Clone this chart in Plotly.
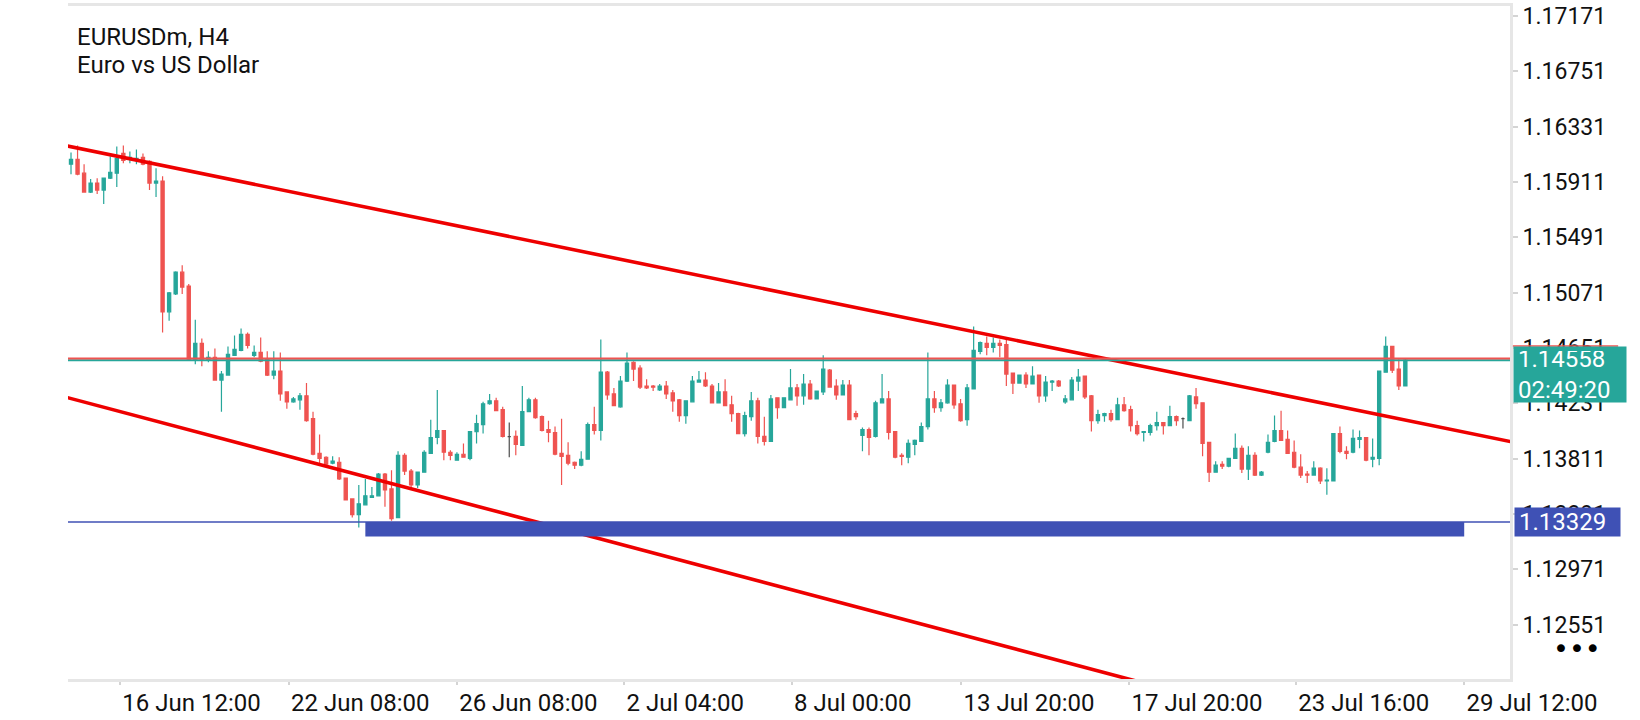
import plotly.graph_objects as go

# EURUSDm H4 candles (index = candle slot)
openP = [
    1.16045, 1.16082, 1.15977, 1.15834, 1.15902, 1.15849, 1.15939, 1.15977, 1.16127, 1.16082,
    1.16075, 1.16097, 1.16067, 1.15902, 1.15917, 1.14925, 1.15061, 1.15226, 1.15121, 1.14565,
    1.14685, 1.14557, 1.14580, 1.14407, 1.14445, 1.14595, 1.14632, 1.14753, 1.14595, 1.14617,
    1.14565, 1.14445, 1.14475, 1.14317, 1.14242, 1.14257, 1.14287, 1.14114, 1.13851, 1.13821,
    1.13776, 1.13783, 1.13663, 1.13505, 1.13385, 1.13460, 1.13517, 1.13528, 1.13693, 1.13581,
    1.13363, 1.13836, 1.13716, 1.13611, 1.13708, 1.13851, 1.13971, 1.14024, 1.13859, 1.13799,
    1.13844, 1.13813, 1.14016, 1.14069, 1.14227, 1.14249, 1.14182, 1.13977, 1.13979, 1.13911,
    1.14167, 1.14257, 1.14129, 1.14031, 1.14009, 1.13851, 1.13836, 1.13783, 1.13761, 1.13806,
    1.14069, 1.14024, 1.14467, 1.14302, 1.14204, 1.14399, 1.14542, 1.14497, 1.14362, 1.14362,
    1.14332, 1.14362, 1.14309, 1.14257, 1.14137, 1.14242, 1.14392, 1.14407, 1.14362, 1.14234,
    1.14317, 1.14219, 1.14152, 1.14001, 1.14129, 1.14249, 1.13979, 1.13941, 1.14272, 1.14197,
    1.14257, 1.14347, 1.14287, 1.14377, 1.14264, 1.14317, 1.14482, 1.14362, 1.14294, 1.14369,
    1.14152, 1.13986, 1.14031, 1.13979, 1.14234, 1.14264, 1.14016, 1.13836, 1.13821, 1.13919,
    1.13941, 1.14054, 1.14264, 1.14197, 1.14234, 1.14369, 1.14227, 1.14106, 1.14339, 1.14625,
    1.14685, 1.14655, 1.14685, 1.14677, 1.14460, 1.14384, 1.14445, 1.14377, 1.14445, 1.14287,
    1.14392, 1.14399, 1.14242, 1.14257, 1.14399, 1.14437, 1.14287, 1.14099, 1.14137, 1.14152,
    1.14106, 1.14219, 1.14182, 1.14061, 1.14009, 1.14009, 1.14061, 1.14084, 1.14061, 1.14129,
    1.14114, 1.14099, 1.14279, 1.14234, 1.13934, 1.13708, 1.13768, 1.13753, 1.13813, 1.13889,
    1.13731, 1.13836, 1.13686, 1.13859, 1.13941, 1.14024, 1.13956, 1.13859, 1.13746, 1.13693,
    1.13686, 1.13738, 1.13641, 1.13641, 1.14001, 1.13866, 1.13859, 1.13956, 1.13971, 1.13806,
    1.13813, 1.14467, 1.14662, 1.14490, 1.14362,
]
highP = [
    1.16135, 1.16187, 1.16045, 1.15932, 1.15939, 1.15942, 1.16105, 1.16180, 1.16187, 1.16142,
    1.16157, 1.16127, 1.16075, 1.16015, 1.15954, 1.15076, 1.15233, 1.15278, 1.15136, 1.14865,
    1.14722, 1.14625, 1.14647, 1.14475, 1.14662, 1.14745, 1.14798, 1.14768, 1.14670, 1.14730,
    1.14625, 1.14625, 1.14617, 1.14320, 1.14279, 1.14309, 1.14384, 1.14167, 1.13994, 1.13828,
    1.13828, 1.13821, 1.13666, 1.13508, 1.13611, 1.13656, 1.13596, 1.13701, 1.13701, 1.13723,
    1.13866, 1.13851, 1.13731, 1.13711, 1.13874, 1.14106, 1.14332, 1.14027, 1.13874, 1.13859,
    1.13926, 1.14020, 1.14144, 1.14242, 1.14302, 1.14272, 1.14204, 1.14084, 1.14024, 1.14362,
    1.14272, 1.14272, 1.14137, 1.14099, 1.14054, 1.14114, 1.13934, 1.13788, 1.13866, 1.14084,
    1.14204, 1.14715, 1.14475, 1.14347, 1.14437, 1.14617, 1.14550, 1.14520, 1.14414, 1.14369,
    1.14377, 1.14399, 1.14332, 1.14264, 1.14252, 1.14437, 1.14475, 1.14467, 1.14377, 1.14384,
    1.14414, 1.14287, 1.14159, 1.14167, 1.14317, 1.14272, 1.14129, 1.14294, 1.14274, 1.14275,
    1.14490, 1.14377, 1.14452, 1.14407, 1.14327, 1.14595, 1.14490, 1.14414, 1.14407, 1.14407,
    1.14174, 1.14046, 1.14046, 1.14249, 1.14452, 1.14324, 1.14018, 1.13851, 1.13956, 1.13956,
    1.14084, 1.14617, 1.14324, 1.14264, 1.14414, 1.14372, 1.14264, 1.14377, 1.14813, 1.14700,
    1.14737, 1.14730, 1.14715, 1.14730, 1.14462, 1.14447, 1.14467, 1.14512, 1.14447, 1.14437,
    1.14407, 1.14407, 1.14294, 1.14430, 1.14490, 1.14439, 1.14294, 1.14182, 1.14159, 1.14182,
    1.14272, 1.14279, 1.14212, 1.14099, 1.14018, 1.14076, 1.14167, 1.14086, 1.14212, 1.14137,
    1.14122, 1.14294, 1.14347, 1.14236, 1.13936, 1.13791, 1.13791, 1.13815, 1.14001, 1.13911,
    1.13904, 1.13859, 1.13716, 1.13994, 1.14137, 1.14174, 1.14024, 1.13949, 1.13844, 1.13716,
    1.13791, 1.13746, 1.13738, 1.14003, 1.14054, 1.13904, 1.14031, 1.14024, 1.13973, 1.13964,
    1.14477, 1.14737, 1.14664, 1.14565, 1.14572,
]
lowP = [
    1.15969, 1.15962, 1.15830, 1.15827, 1.15819, 1.15744, 1.15932, 1.15872, 1.16052, 1.16052,
    1.16045, 1.16037, 1.15849, 1.15797, 1.14768, 1.14858, 1.15053, 1.15061, 1.14557, 1.14527,
    1.14512, 1.14542, 1.14404, 1.14167, 1.14440, 1.14590, 1.14625, 1.14647, 1.14580, 1.14542,
    1.14437, 1.14414, 1.14249, 1.14189, 1.14234, 1.14182, 1.14091, 1.13836, 1.13768, 1.13761,
    1.13768, 1.13648, 1.13494, 1.13363, 1.13288, 1.13458, 1.13513, 1.13526, 1.13445, 1.13340,
    1.13358, 1.13686, 1.13596, 1.13588, 1.13706, 1.13849, 1.13919, 1.13799, 1.13799, 1.13796,
    1.13818, 1.13799, 1.13926, 1.14001, 1.14219, 1.14170, 1.13971, 1.13821, 1.13836, 1.13908,
    1.14164, 1.14114, 1.14016, 1.13934, 1.13836, 1.13611, 1.13761, 1.13731, 1.13753, 1.13803,
    1.13994, 1.13949, 1.14257, 1.14209, 1.14197, 1.14392, 1.14399, 1.14339, 1.14339, 1.14324,
    1.14324, 1.14264, 1.14167, 1.14091, 1.14076, 1.14240, 1.14390, 1.14354, 1.14232, 1.14232,
    1.14210, 1.14091, 1.13999, 1.13979, 1.14099, 1.13926, 1.13911, 1.13938, 1.14114, 1.14195,
    1.14255, 1.14212, 1.14219, 1.14257, 1.14262, 1.14294, 1.14352, 1.14257, 1.14292, 1.14104,
    1.14106, 1.13866, 1.13836, 1.13971, 1.14232, 1.13956, 1.13813, 1.13761, 1.13776, 1.13836,
    1.13939, 1.14031, 1.14159, 1.14167, 1.14227, 1.14189, 1.14091, 1.14061, 1.14337, 1.14602,
    1.14595, 1.14617, 1.14580, 1.14362, 1.14302, 1.14382, 1.14347, 1.14375, 1.14234, 1.14242,
    1.14324, 1.14354, 1.14227, 1.14255, 1.14324, 1.14264, 1.14016, 1.14076, 1.14091, 1.14091,
    1.14104, 1.14167, 1.14016, 1.13986, 1.13941, 1.13986, 1.14024, 1.13994, 1.14059, 1.14061,
    1.14039, 1.14097, 1.14189, 1.13828, 1.13633, 1.13706, 1.13731, 1.13746, 1.13811, 1.13701,
    1.13648, 1.13678, 1.13678, 1.13851, 1.13934, 1.13947, 1.13849, 1.13738, 1.13663, 1.13626,
    1.13684, 1.13618, 1.13536, 1.13639, 1.13851, 1.13806, 1.13851, 1.13889, 1.13791, 1.13746,
    1.13761, 1.14465, 1.14460, 1.14332, 1.14360,
]
closeP = [
    1.16082, 1.15969, 1.15834, 1.15902, 1.15849, 1.15939, 1.15984, 1.16090, 1.16075, 1.16097,
    1.16090, 1.16045, 1.15902, 1.15917, 1.14925, 1.15068, 1.15226, 1.15113, 1.14565, 1.14685,
    1.14565, 1.14580, 1.14407, 1.14452, 1.14602, 1.14640, 1.14753, 1.14670, 1.14617, 1.14550,
    1.14445, 1.14475, 1.14302, 1.14242, 1.14264, 1.14287, 1.14099, 1.13844, 1.13813, 1.13768,
    1.13791, 1.13656, 1.13498, 1.13385, 1.13468, 1.13528, 1.13528, 1.13693, 1.13573, 1.13355,
    1.13836, 1.13716, 1.13611, 1.13708, 1.13859, 1.13971, 1.14024, 1.13859, 1.13836, 1.13844,
    1.13821, 1.14016, 1.14076, 1.14227, 1.14249, 1.14174, 1.13979, 1.13977, 1.13919, 1.14167,
    1.14257, 1.14122, 1.14024, 1.14009, 1.13844, 1.13828, 1.13776, 1.13761, 1.13806, 1.14069,
    1.14024, 1.14467, 1.14294, 1.14212, 1.14399, 1.14535, 1.14490, 1.14354, 1.14347, 1.14354,
    1.14362, 1.14302, 1.14249, 1.14137, 1.14249, 1.14399, 1.14407, 1.14362, 1.14234, 1.14317,
    1.14212, 1.14152, 1.14001, 1.14137, 1.14249, 1.13979, 1.13941, 1.14264, 1.14197, 1.14272,
    1.14347, 1.14287, 1.14377, 1.14264, 1.14324, 1.14490, 1.14354, 1.14294, 1.14369, 1.14106,
    1.14129, 1.14031, 1.13971, 1.14234, 1.14264, 1.14009, 1.13821, 1.13828, 1.13926, 1.13949,
    1.14054, 1.14264, 1.14197, 1.14234, 1.14369, 1.14219, 1.14099, 1.14347, 1.14632, 1.14692,
    1.14655, 1.14685, 1.14670, 1.14452, 1.14384, 1.14445, 1.14377, 1.14437, 1.14287, 1.14392,
    1.14399, 1.14362, 1.14264, 1.14407, 1.14430, 1.14279, 1.14099, 1.14144, 1.14152, 1.14106,
    1.14219, 1.14174, 1.14061, 1.14001, 1.14016, 1.14061, 1.14084, 1.14061, 1.14129, 1.14099,
    1.14114, 1.14287, 1.14227, 1.13926, 1.13708, 1.13761, 1.13753, 1.13813, 1.13889, 1.13731,
    1.13836, 1.13686, 1.13708, 1.13934, 1.14024, 1.13949, 1.13851, 1.13746, 1.13686, 1.13686,
    1.13738, 1.13641, 1.13648, 1.14001, 1.13866, 1.13851, 1.13964, 1.13971, 1.13799, 1.13821,
    1.14475, 1.14662, 1.14482, 1.14362, 1.14558,
]
dojiIdx = [67, 170]

# axis labels
tickSlot = [7.5, 33.3, 59.0, 84.6, 110.2, 136.1, 161.8, 187.3, 213.0]
tickText = ["16 Jun 12:00", "22 Jun 08:00", "26 Jun 08:00", "2 Jul 04:00", "8 Jul 00:00",
            "13 Jul 20:00", "17 Jul 20:00", "23 Jul 16:00", "29 Jul 12:00"]
priceTicks = [1.17171, 1.16751, 1.16331, 1.15911, 1.15491, 1.15071,
              1.14651, 1.14231, 1.13811, 1.13391, 1.12971, 1.12551]

# objects drawn on the chart
bidPrice = 1.14558
askPrice = 1.14570
countdown = "02:49:20"
levelPrice = 1.13329
zoneLow = 1.13220
zoneFrom, zoneTo = 45, 213
upperTrendSlot = [-2, 222]
upperTrendPrice = [1.16198, 1.13920]
lowerTrendSlot = [-2, 220]
lowerTrendPrice = [1.14293, 1.11370]

upColor = '#26a69a'
downColor = '#ef5350'
dojiColor = '#4d4d4d'
levelColor = '#3f51b5'
axisColor = '#e6e6e6'
textColor = '#111111'
fontName = 'Roboto'

idx = list(range(len(openP)))
main = [i for i in idx if i not in dojiIdx]

fig = go.Figure()

fig.add_trace(go.Candlestick(
    x=main,
    open=[openP[i] for i in main], high=[highP[i] for i in main],
    low=[lowP[i] for i in main], close=[closeP[i] for i in main],
    increasing=dict(line=dict(color=upColor, width=1.2), fillcolor=upColor),
    decreasing=dict(line=dict(color=downColor, width=1.2), fillcolor=downColor),
    whiskerwidth=0, showlegend=False, hoverinfo='skip'))

fig.add_trace(go.Candlestick(
    x=dojiIdx,
    open=[openP[i] for i in dojiIdx], high=[highP[i] for i in dojiIdx],
    low=[lowP[i] for i in dojiIdx], close=[closeP[i] for i in dojiIdx],
    increasing=dict(line=dict(color=dojiColor, width=1.2), fillcolor=dojiColor),
    decreasing=dict(line=dict(color=dojiColor, width=1.2), fillcolor=dojiColor),
    whiskerwidth=0, showlegend=False, hoverinfo='skip'))

# support zone and level
fig.add_shape(type='rect', xref='x', yref='y', x0=zoneFrom, x1=zoneTo, y0=zoneLow, y1=levelPrice,
              fillcolor=levelColor, line=dict(width=0), layer='above')
fig.add_shape(type='line', xref='paper', yref='y', x0=0, x1=1, y0=levelPrice, y1=levelPrice,
              line=dict(color=levelColor, width=1.5))

# trend lines
fig.add_trace(go.Scatter(x=upperTrendSlot, y=upperTrendPrice, mode='lines',
                         line=dict(color='#ee0000', width=3.6), showlegend=False, hoverinfo='skip'))
fig.add_trace(go.Scatter(x=lowerTrendSlot, y=lowerTrendPrice, mode='lines',
                         line=dict(color='#ee0000', width=3.6), showlegend=False, hoverinfo='skip'))

# bid / ask lines
fig.add_shape(type='line', xref='paper', yref='y', x0=0, x1=1, y0=bidPrice, y1=bidPrice,
              line=dict(color=upColor, width=2))
fig.add_shape(type='line', xref='paper', yref='y', x0=0, x1=1, y0=askPrice, y1=askPrice,
              line=dict(color=downColor, width=2))
fig.add_shape(type='line', xref='paper', yref='y', x0=1.002, x1=1.075, y0=1.14665, y1=1.14665,
              line=dict(color=downColor, width=1.5))

# price labels on the scale
fig.add_annotation(xref='paper', yref='y', x=1.002, y=bidPrice, xanchor='left', yanchor='top',
                   yshift=14, text='%.5f<br>%s' % (bidPrice, countdown),
                   showarrow=False, align='left', bgcolor=upColor, width=104, height=47,
                   borderpad=4, font=dict(family=fontName, size=24, color='white'))
fig.add_annotation(xref='paper', yref='y', x=1.003, y=levelPrice, xanchor='left', yanchor='middle',
                   text='%.5f' % levelPrice, showarrow=False, align='left', bgcolor=levelColor,
                   width=97, height=20, borderpad=4, font=dict(family=fontName, size=24, color='white'))

# symbol caption
fig.add_annotation(xref='paper', yref='paper', x=0.005, y=0.954, xanchor='left', yanchor='middle',
                   text='EURUSDm, H4', showarrow=False, font=dict(family=fontName, size=24, color=textColor))
fig.add_annotation(xref='paper', yref='paper', x=0.005, y=0.912, xanchor='left', yanchor='middle',
                   text='Euro vs US Dollar', showarrow=False, font=dict(family=fontName, size=24, color=textColor))
# menu dots under the price scale
fig.add_annotation(xref='paper', yref='paper', x=1.0465, y=0.046, xanchor='center', yanchor='middle',
                   text='•••', showarrow=False, font=dict(family='DejaVu Sans', size=27, color='black'))

fig.update_layout(
    width=1640, height=720,
    margin=dict(l=68, r=130, t=3, b=37),
    paper_bgcolor='white', plot_bgcolor='white',
    showlegend=False,
    xaxis=dict(range=[-0.46, 220.0], tickvals=tickSlot, ticktext=tickText,
               ticks='outside', ticklen=3, tickwidth=1.5, tickcolor='#d4d4d4',
               ticklabelposition='outside right',
               showline=True, linecolor=axisColor, linewidth=3, mirror=True,
               showgrid=False, zeroline=False, rangeslider=dict(visible=False),
               tickfont=dict(family=fontName, size=24, color=textColor)),
    yaxis=dict(range=[1.12138, 1.17246], side='right', tickvals=priceTicks,
               ticktext=['%.5f' % p for p in priceTicks],
               ticks='outside', ticklen=5, tickwidth=1.5, tickcolor='#d4d4d4',
               showline=True, linecolor=axisColor, linewidth=3,
               showgrid=False, zeroline=False,
               tickfont=dict(family=fontName, size=23, color=textColor)),
)

# page has a default 8px body margin; drop it so the chart sits at the window corner
fig.write_html("out.html", config={'displayModeBar': False},
               post_script="document.body.style.margin='0px';")
